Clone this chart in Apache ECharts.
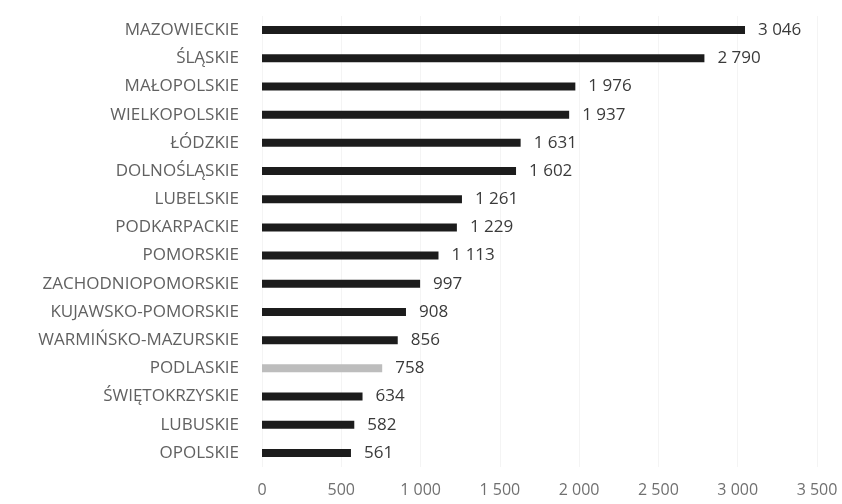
<!DOCTYPE html>
<html>
<head>
<meta charset="utf-8">
<script src="https://cdn.jsdelivr.net/npm/echarts@6/dist/echarts.min.js"></script>
<style>
  html, body { margin: 0; padding: 0; background: #fff; }
  #chart { width: 842px; height: 504px; }
</style>
</head>
<body>
<div id="chart"></div>
<script>
// Voivodeships, top to bottom
const regions = [
  'MAZOWIECKIE', 'ŚLĄSKIE', 'MAŁOPOLSKIE', 'WIELKOPOLSKIE', 'ŁÓDZKIE',
  'DOLNOŚLĄSKIE', 'LUBELSKIE', 'PODKARPACKIE', 'POMORSKIE', 'ZACHODNIOPOMORSKIE',
  'KUJAWSKO-POMORSKIE', 'WARMIŃSKO-MAZURSKIE', 'PODLASKIE', 'ŚWIĘTOKRZYSKIE',
  'LUBUSKIE', 'OPOLSKIE'
];
const values = [3046, 2790, 1976, 1937, 1631, 1602, 1261, 1229, 1113, 997, 908, 856, 758, 634, 582, 561];
const highlighted = ['PODLASKIE'];

const axisMax = 3500;
const axisStep = 500;

// Polish-style thousands separator: "3 046"
const fmt = v => String(v).replace(/\B(?=(\d{3})+(?!\d))/g, ' ');

const chart = echarts.init(document.getElementById('chart'), null, { renderer: 'canvas' });
chart.setOption({
  animation: false,
  backgroundColor: '#ffffff',
  textStyle: { fontFamily: 'Open Sans' },
  grid: { left: 262, right: 25, top: 16, bottom: 37, containLabel: false },
  xAxis: {
    type: 'value',
    min: 0,
    max: axisMax,
    interval: axisStep,
    axisLine: { show: false },
    axisTick: { show: false },
    splitLine: { show: true, lineStyle: { color: '#f4f4f4', width: 1 } },
    axisLabel: {
      color: '#707070',
      fontSize: 16,
      margin: 15,
      formatter: v => fmt(v)
    }
  },
  yAxis: {
    type: 'category',
    data: regions,
    inverse: true,
    axisLine: { show: false },
    axisTick: { show: false },
    axisLabel: {
      color: '#616161',
      fontSize: 17,
      margin: 23
    }
  },
  series: [{
    type: 'bar',
    barWidth: 8,
    data: values.map((v, i) => ({
      value: v,
      itemStyle: {
        color: highlighted.includes(regions[i]) ? '#bdbdbd' : '#1c1c1c'
      }
    })),
    label: {
      show: true,
      position: 'right',
      distance: 13,
      color: '#3a3a3a',
      fontSize: 17,
      formatter: p => fmt(p.value)
    }
  }]
});
</script>
</body>
</html>
